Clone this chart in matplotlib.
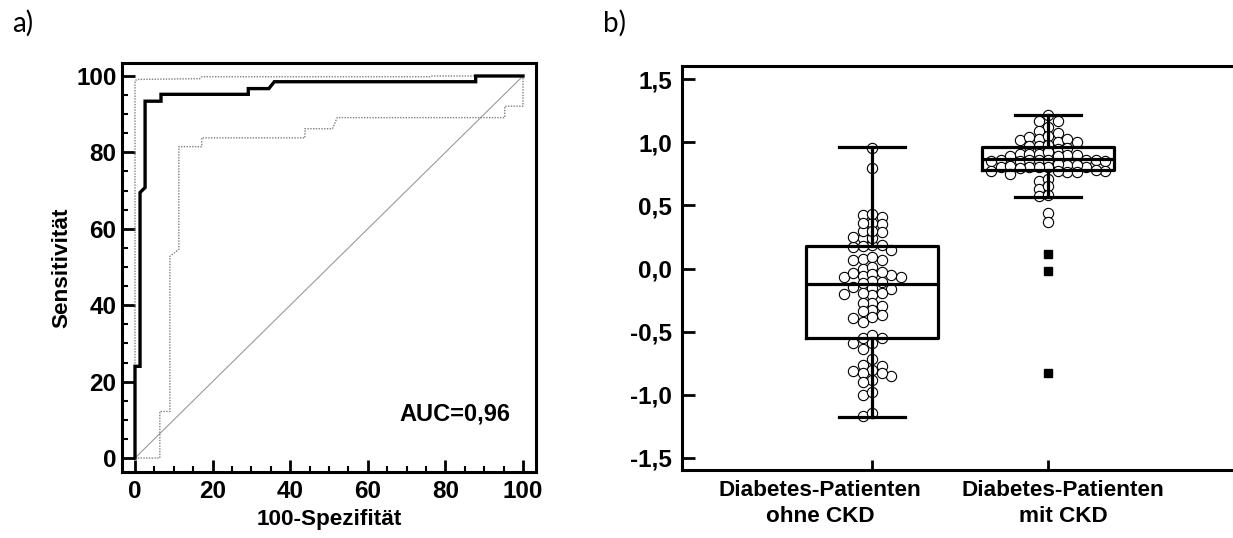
import numpy as np
import matplotlib
matplotlib.use("Agg")
import matplotlib.pyplot as plt
from matplotlib.ticker import MultipleLocator, FixedLocator
import matplotlib.transforms as mtransforms

plt.rcParams['font.family'] = ['Liberation Sans', 'DejaVu Sans']

# ---------------- data: panel a (ROC) ----------------
roc_fpr = [0, 0, 1.3, 1.3, 2.6, 2.6, 6.7, 6.7, 29.2, 29.2, 34.5, 35.9, 87.8, 87.8, 100]
roc_tpr = [0, 24, 24, 69.5, 70.8, 93.4, 93.4, 95.2, 95.2, 96.7, 96.7, 98.5, 98.5, 100, 100]
upper_fpr = [0, 0, 0.5, 16.7, 17.2, 76, 76.2, 100]
upper_tpr = [0, 98.7, 99.1, 99.3, 99.8, 99.8, 100, 100]
lower_fpr = [0, 6.4, 6.4, 9.0, 9.0, 11.3, 11.3, 17.2, 17.2, 43.8, 43.8, 50.9, 52.1, 95.3, 95.3, 100, 100]
lower_tpr = [0, 0, 12.2, 12.2, 52.8, 54.6, 81.5, 81.5, 83.8, 83.8, 86.2, 86.2, 89.1, 89.1, 92.1, 92.1, 100]
diag = [0, 100]
auc_text = "AUC=0,96"
roc_ticks = [0, 20, 40, 60, 80, 100]

# ---------------- data: panel b (box + dots) ----------------
categories = ["Diabetes-Patienten\nohne CKD", "Diabetes-Patienten\nmit CKD"]
box_q1 = [-0.553, 0.78]
box_med = [-0.125, 0.865]
box_q3 = [0.18, 0.964]
whisk_lo = [-1.178, 0.564]
whisk_hi = [0.96, 1.215]

g1_values = [0.955, 0.793,
             0.41, 0.352, 0.29, 0.239, 0.186,
             0.427, 0.36, 0.297, 0.24, 0.174,
             0.43, 0.36, 0.30, 0.25, 0.19,
             0.176, 0.146,
             0.067, 0.07, 0.075, 0.088,
             -0.004, 0.014,
             -0.065, -0.065, -0.055, -0.06, -0.034, -0.04, -0.026,
             -0.11, -0.10, -0.115, -0.16, -0.15, -0.155,
             -0.21, -0.20, -0.195, -0.19,
             -0.30, -0.368, -0.426, -0.27, -0.327, -0.385, -0.277, -0.335, -0.388,
             -0.553, -0.553, -0.527,
             -0.64, -0.59, -0.59,
             -0.72, -0.77, -0.765, -0.80, -0.81, -0.85, -0.83, -0.83, -0.88, -0.90,
             -1.0, -0.98,
             -1.17, -1.14]
g2_values = [1.215, 1.165, 1.17, 1.118, 1.07, 1.086,
             1.005, 1.005, 1.018, 1.026, 1.026, 1.04, 1.045,
             0.948, 0.955, 0.966, 0.966, 0.974,
             0.895, 0.90, 0.905, 0.91, 0.91, 0.92, 0.89, 0.89,
             0.85, 0.855, 0.86, 0.86, 0.855, 0.85, 0.86, 0.855, 0.85,
             0.80, 0.80, 0.80, 0.80, 0.80, 0.81, 0.82, 0.82, 0.795, 0.83,
             0.75, 0.76, 0.76, 0.775, 0.775, 0.775, 0.78,
             0.69, 0.71, 0.63, 0.65, 0.57, 0.58, 0.437, 0.367]
g2_outliers = [0.115, -0.017, -0.83]
b_ticks = [-1.5, -1.0, -0.5, 0.0, 0.5, 1.0, 1.5]
b_ticklabels = ["-1,5", "-1,0", "-0,5", "0,0", "0,5", "1,0", "1,5"]

# ---------------- figure ----------------
W, H = 1233, 538
fig = plt.figure(figsize=(W / 100, H / 100), dpi=100)

def frac(l, t, r, b):
    return [l / W, 1 - b / H, (r - l) / W, (b - t) / H]

FS = 17.5      # tick labels
FL = 16.2      # axis / category labels

# ---------- panel a ----------
axa = fig.add_axes(frac(122, 63, 536, 472))
axa.plot(diag, diag, color="#9a9a9a", lw=0.8, zorder=1)
axa.plot(upper_fpr, upper_tpr, color="#808080", lw=1.0, ls=(0, (1, 1)), zorder=2)
axa.plot(lower_fpr, lower_tpr, color="#808080", lw=1.0, ls=(0, (1, 1)), zorder=2)
axa.plot(roc_fpr, roc_tpr, color="black", lw=2.4, zorder=3, solid_joinstyle="miter")
axa.set_xlim(-3.35, 103.35)
axa.set_ylim(-3.66, 103.4)
axa.xaxis.set_major_locator(FixedLocator(roc_ticks))
axa.yaxis.set_major_locator(FixedLocator(roc_ticks))
axa.xaxis.set_minor_locator(MultipleLocator(5))
axa.yaxis.set_minor_locator(MultipleLocator(5))
axa.tick_params(which="major", direction="in", length=9, width=2.0, labelsize=FS, pad=6)
axa.tick_params(which="minor", direction="in", length=4.5, width=1.5)
axa.tick_params(axis="y", which="major", pad=4)
for lab in axa.get_xticklabels() + axa.get_yticklabels():
    lab.set_fontweight("bold")
for sp in axa.spines.values():
    sp.set_linewidth(2.2)
axa.set_xlabel("100-Spezifität", fontsize=FL, fontweight="bold", labelpad=4)
axa.set_ylabel("Sensitivität", fontsize=FL, fontweight="bold", labelpad=3)
axa.text(82.5, 11.5, auc_text, fontsize=17, fontweight="bold", ha="center", va="center")

# ---------- panel b ----------
axb = fig.add_axes(frac(682, 66, 1240, 470))
axb.set_xlim(1 - 190 / 176, 2 + 192 / 176)
axb.set_ylim(-1.595, 1.603)
positions = [1, 2]
stats = []
for i in range(2):
    stats.append(dict(med=box_med[i], q1=box_q1[i], q3=box_q3[i],
                      whislo=whisk_lo[i], whishi=whisk_hi[i], fliers=[]))
lw_box = 2.3
axb.bxp(stats, positions=positions, widths=0.75, showfliers=False,
        boxprops=dict(lw=lw_box, color="black"),
        medianprops=dict(lw=lw_box, color="black"),
        whiskerprops=dict(lw=lw_box, color="black"),
        capprops=dict(lw=lw_box, color="black"),
        capwidths=0.37, zorder=4, manage_ticks=False)


def swarm(values, xc, ax, col_px=9.5, min_dy=6.8):
    vals = np.asarray(values, dtype=float)
    disp = ax.transData.transform(np.column_stack([np.full(len(vals), xc), vals]))
    ys = disp[:, 1]
    cols = {}
    offs = np.zeros(len(vals))
    order = np.argsort(-vals, kind="stable")
    cand = [0]
    for k in range(1, 15):
        cand += [-k, k]
    for i in order:
        for k in cand:
            if all(abs(ys[i] - y) >= min_dy for y in cols.get(k, [])):
                cols.setdefault(k, []).append(ys[i])
                offs[i] = k
                break
    disp[:, 0] = disp[:, 0] + offs * col_px
    data = ax.transData.inverted().transform(disp)
    return data[:, 0], data[:, 1]

for xc, vals in zip(positions, [g1_values, g2_values]):
    xs, ys = swarm(vals, xc, axb)
    axb.plot(xs, ys, ls="none", marker="o", ms=7.4, mfc="white", mec="black",
             mew=0.8, zorder=3)
axb.plot([2] * len(g2_outliers), g2_outliers, ls="none", marker="s", ms=6,
         mfc="black", mec="black", zorder=5)

axb.yaxis.set_major_locator(FixedLocator(b_ticks))
axb.set_yticklabels(b_ticklabels, fontsize=FS, fontweight="bold")
axb.xaxis.set_major_locator(FixedLocator(positions))
axb.set_xticklabels(["", ""])
axb.tick_params(axis="y", direction="in", length=9.5, width=2.0, pad=7)
axb.tick_params(axis="x", direction="in", length=7, width=2.0)
axb.tick_params(axis="y", which="minor", left=False)
for sp in axb.spines.values():
    sp.set_linewidth(2.2)
trans = mtransforms.blended_transform_factory(axb.transData, axb.transAxes)
label_x = [1 - 52 / 176, 2 + 15 / 176]
for lx, lab in zip(label_x, categories):
    axb.text(lx, -0.084, lab, transform=trans, ha="center", va="center",
             multialignment="center", fontsize=FL, fontweight="bold", linespacing=1.32)

# panel letters
fig.text(12 / W, 1 - 32 / H, "a)", fontsize=20, family=["Lato", "DejaVu Sans"],
         ha="left", va="baseline")
fig.text(603 / W, 1 - 32 / H, "b)", fontsize=20, family=["Lato", "DejaVu Sans"],
         ha="left", va="baseline")

fig.savefig("out.png", dpi=100)
